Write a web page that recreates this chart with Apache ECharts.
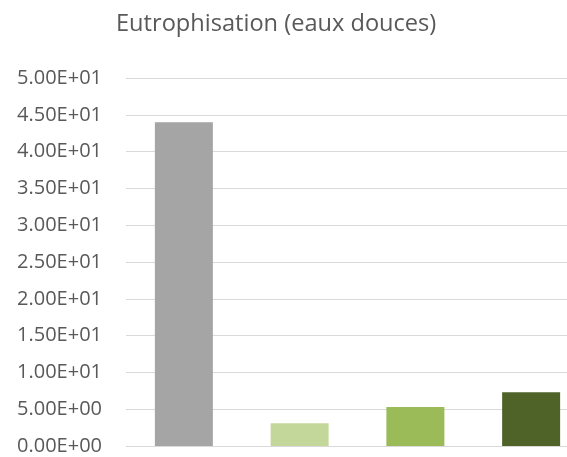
<!DOCTYPE html>
<html>
<head>
<meta charset="utf-8">
<script src="https://cdn.jsdelivr.net/npm/echarts@6/dist/echarts.min.js"></script>
<style>
  html, body { margin: 0; padding: 0; background: #fff; overflow: hidden; }
  #chart { width: 589px; height: 457px; }
</style>
</head>
<body>
<div id="chart"></div>
<script>
// plot area in the original runs past the right edge of the picture,
// so the chart div is wider than the window and gets clipped
const categories = ["A", "B", "C", "D"];
const values = [44.0, 3.1, 5.3, 7.3];
const barColors = ["#a5a5a5", "#c4d79b", "#9bbb59", "#4f6228"];

function sci(v) {
  if (v === 0) return "0.00E+00";
  const exp = Math.floor(Math.log10(Math.abs(v)));
  const mant = (v / Math.pow(10, exp)).toFixed(2);
  const sign = exp < 0 ? "-" : "+";
  const e = String(Math.abs(exp)).padStart(2, "0");
  return mant + "E" + sign + e;
}

const chart = echarts.init(document.getElementById("chart"));
chart.setOption({
  backgroundColor: "#fff",
  animation: false,
  title: {
    text: "Eutrophisation (eaux douces)",
    left: 116,
    top: 12,
    padding: 0,
    textStyle: { fontFamily: "Open Sans", fontSize: 23.6, fontWeight: "normal", color: "#595959" },
  },
  grid: { left: 126, right: 0, top: 78, bottom: 11, containLabel: false },
  xAxis: {
    type: "category",
    data: categories,
    axisLine: { show: false },
    axisTick: { show: false },
    axisLabel: { show: false },
  },
  yAxis: {
    type: "value",
    min: 0,
    max: 50,
    interval: 5,
    axisLine: { show: false },
    axisTick: { show: false },
    splitLine: { lineStyle: { color: "#d9d9d9", width: 1 } },
    axisLabel: {
      margin: 24,
      fontFamily: "Open Sans",
      fontSize: 20,
      color: "#595959",
      formatter: sci,
    },
  },
  series: [{
    type: "bar",
    barWidth: 58,
    data: values.map((v, i) => ({ value: v, itemStyle: { color: barColors[i] } })),
  }],
});
</script>
</body>
</html>
